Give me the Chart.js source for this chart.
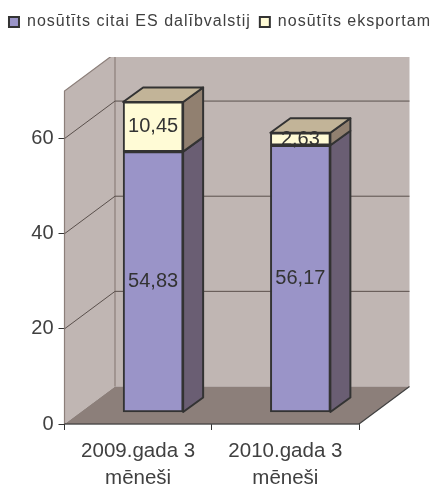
<!DOCTYPE html>
<html><head><meta charset="utf-8">
<style>html,body{margin:0;padding:0;background:#fff}canvas{display:block}</style>
<script src="https://cdn.jsdelivr.net/npm/chart.js@4"></script></head>
<body><div style="width:430px;height:484px"><canvas id="c" width="430" height="484"></canvas></div>
<script>
const categories = [["2009.gada 3","mēneši"],["2010.gada 3","mēneši"]];
const seriesNames = ["nosūtīts citai ES dalībvalstij","nosūtīts eksportam"];
const seriesEs = [54.83,56.17];
const seriesExport = [10.45,2.63];
const yTicks = [0,20,40,60];
const yMax = 70;

const FONT = 'Liberation Sans, Arial, sans-serif';
const INK = '#404040';
const WALL = '#c0b6b3', FLOOR = '#8c7f7a', WALL_LINE = '#8c7f7a';
const DEPTH = {x:50.5, y:-37.5};
const BAR_SHIFT = {x:15, y:-11.5};
const BAR_DEPTH = {x:20, y:-14.5};
const WALL_CLIP_TOP = 57;
const LEGEND_SPACING = '1px';
const sideColors = ['#6a5e73','#918070'];
const topColor = '#c2b498';

function poly(ctx, pts, fill, stroke, lw){
  ctx.beginPath();
  pts.forEach((p,i)=> i?ctx.lineTo(p[0],p[1]):ctx.moveTo(p[0],p[1]));
  ctx.closePath();
  if(fill){ctx.fillStyle=fill;ctx.fill();}
  if(stroke){ctx.strokeStyle=stroke;ctx.lineWidth=lw;ctx.lineJoin='round';ctx.stroke();}
}

const legendSpacing = {
  id:'legendSpacing',
  beforeLayout(chart){
    const lg = chart.legend, ctx = chart.ctx;
    if(!lg || lg._spaced) return;
    lg._spaced = true;
    const fit = lg.fit, draw = lg.draw;
    lg.fit = function(){
      const w = this.maxWidth;
      this.maxWidth = w + 60;
      ctx.letterSpacing = LEGEND_SPACING;
      fit.apply(this,arguments);
      ctx.letterSpacing = '0px';
      this.maxWidth = w; this.width = w;
    };
    lg.draw = function(){
      ctx.letterSpacing = LEGEND_SPACING;
      const L = this.left, R = this.right;
      this.left = L - 30; this.right = R + 30;
      draw.apply(this,arguments);
      this.left = L; this.right = R;
      ctx.letterSpacing = '0px';
    };
  }
};

const scene = {
  id:'scene',
  beforeDatasetsDraw(chart){
    const {ctx, chartArea:a, scales:{y}} = chart;
    const l=a.left, r=a.right, b=y.getPixelForValue(0), t=y.getPixelForValue(yMax);
    ctx.save();
    ctx.beginPath(); ctx.rect(0,WALL_CLIP_TOP,430,484); ctx.clip();
    poly(ctx,[[l+DEPTH.x,b+DEPTH.y],[r+DEPTH.x,b+DEPTH.y],[r+DEPTH.x,t+DEPTH.y],[l+DEPTH.x,t+DEPTH.y]],WALL);
    poly(ctx,[[l,b],[l+DEPTH.x,b+DEPTH.y],[l+DEPTH.x,t+DEPTH.y],[l,t]],WALL);
    ctx.strokeStyle=WALL_LINE; ctx.lineWidth=1.2;
    ctx.beginPath();
    ctx.moveTo(l,b);ctx.lineTo(l,t);ctx.lineTo(l+DEPTH.x,t+DEPTH.y);
    ctx.moveTo(l+DEPTH.x,t+DEPTH.y);ctx.lineTo(l+DEPTH.x,b+DEPTH.y);
    ctx.stroke();
    ctx.strokeStyle='#5a504c'; ctx.lineWidth=1;
    yTicks.filter(v=>v>0).forEach(v=>{
      const py=y.getPixelForValue(v);
      ctx.beginPath();ctx.moveTo(l,py);ctx.lineTo(l+DEPTH.x,py+DEPTH.y);ctx.lineTo(r+DEPTH.x,py+DEPTH.y);ctx.stroke();
    });
    ctx.restore();
    poly(ctx,[[l,b],[r,b],[r+DEPTH.x,b+DEPTH.y],[l+DEPTH.x,b+DEPTH.y]],FLOOR);
    ctx.strokeStyle=INK;ctx.lineWidth=1.2;
    ctx.beginPath();ctx.moveTo(r,b);ctx.lineTo(r+DEPTH.x,b+DEPTH.y);ctx.stroke();
    ctx.strokeStyle='#333';ctx.lineWidth=1.2;
    ctx.beginPath();ctx.moveTo(l,b);ctx.lineTo(r,b);ctx.stroke();

    ctx.save();
    ctx.translate(BAR_SHIFT.x,BAR_SHIFT.y);
    chart.data.datasets.forEach((ds,di)=>{
      chart.getDatasetMeta(di).data.forEach((bar,i)=>{
        const hw=bar.width/2, xr=bar.x+hw, xl=bar.x-hw;
        poly(ctx,[[xr,bar.y],[xr+BAR_DEPTH.x,bar.y+BAR_DEPTH.y],[xr+BAR_DEPTH.x,bar.base+BAR_DEPTH.y],[xr,bar.base]],sideColors[di],'#333',2);
        if(di===chart.data.datasets.length-1)
          poly(ctx,[[xl,bar.y],[xl+BAR_DEPTH.x,bar.y+BAR_DEPTH.y],[xr+BAR_DEPTH.x,bar.y+BAR_DEPTH.y],[xr,bar.y]],topColor,'#333',2);
      });
    });
    ctx.restore();
    ctx.save();
    ctx.translate(BAR_SHIFT.x,BAR_SHIFT.y);
  },
  afterDatasetsDraw(chart){
    const {ctx} = chart;
    ctx.font='20px '+FONT; ctx.fillStyle='#333'; ctx.textAlign='center'; ctx.textBaseline='middle';
    chart.data.datasets.forEach((ds,di)=>{
      chart.getDatasetMeta(di).data.forEach((bar,i)=>{
        ctx.fillText(String(ds.data[i]).replace('.',','),bar.x,(bar.y+bar.base)/2);
      });
    });
    ctx.restore();
  }
};

new Chart(document.getElementById('c'),{
  type:'bar',
  data:{labels:categories,datasets:[
    {label:seriesNames[0],data:seriesEs,backgroundColor:'#9a94c8',borderColor:'#333',borderWidth:2,borderSkipped:false,barThickness:60,clip:false},
    {label:seriesNames[1],data:seriesExport,backgroundColor:'#fffbd6',borderColor:'#333',borderWidth:2,borderSkipped:false,barThickness:60,clip:false}
  ]},
  options:{
    responsive:false,animation:false,devicePixelRatio:1,
    layout:{padding:{left:10,right:0,top:5,bottom:0}},
    plugins:{
      tooltip:{enabled:false},
      legend:{position:'top',labels:{boxWidth:10,boxHeight:10,padding:9,color:INK,font:{family:FONT,size:16}},onClick:null}
    },
    scales:{
      x:{stacked:true,
        afterFit(s){s.height=60;},
        border:{color:'#333',width:1.2},
        grid:{display:true,drawOnChartArea:false,drawTicks:true,tickLength:6,color:'#333',offset:true},
        ticks:{color:INK,font:{family:FONT,size:20.5,lineHeight:1.32},maxRotation:0,padding:8}},
      y:{stacked:true,min:0,max:yMax,
        afterBuildTicks(s){s.ticks=yTicks.map(v=>({value:v}));},
        afterFit(s){s.width=54.5;},
        border:{display:false},
        grid:{drawOnChartArea:false,drawTicks:true,tickLength:6,color:'#333'},
        ticks:{color:INK,font:{family:FONT,size:20},padding:5}},
      padRight:{position:'right',display:true,afterFit(s){s.width=71;},
        border:{display:false},grid:{display:false},ticks:{display:false}},
      padTop:{type:'category',position:'top',axis:'x',display:true,afterFit(s){s.height=51;},
        border:{display:false},grid:{display:false},ticks:{display:false}}
    }
  },
  plugins:[scene,legendSpacing]
});
</script></body></html>
